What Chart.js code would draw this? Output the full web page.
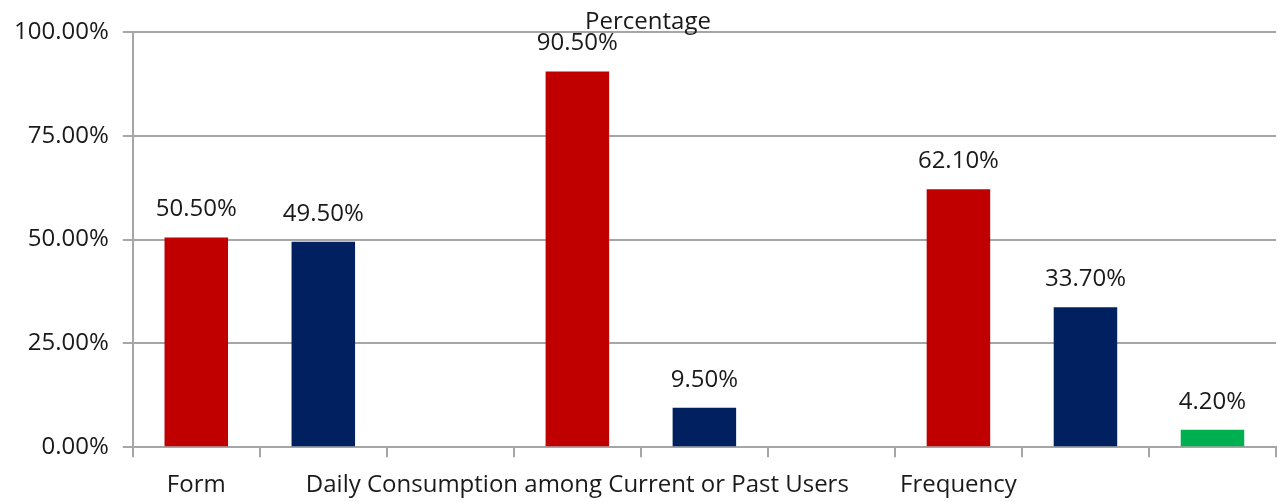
<!DOCTYPE html>
<html lang="en">
<head>
    <meta charset="UTF-8">
    <title>Percentage</title>
    <style>
        body {
            margin: 0;
            background: #ffffff;
        }

        .container {
            width: 1278px;
            height: 502px;
        }
    </style>
</head>
<body>
    <div class="container">
        <canvas id="percentChart" width="1278" height="502"></canvas>
    </div>

    <script src="https://cdn.jsdelivr.net/npm/chart.js"></script>
    <script>
        // categories: only every third slot carries a group name
        const categories = ['Form', '', '', 'Daily Consumption among Current or Past Users', '', '', 'Frequency', '', ''];
        const percentages = [50.5, 49.5, null, 90.5, 9.5, null, 62.1, 33.7, 4.2];
        const barColors = ['#C00000', '#002060', '#C00000', '#C00000', '#002060', '#002060', '#C00000', '#002060', '#00B050'];
        const yTicks = [0, 25, 50, 75, 100];

        const textFont = '"Open Sans", Lato, sans-serif';
        const textColor = '#1a1a1a';
        const fontSize = 24;

        // value labels above each bar
        const valueLabels = {
            id: 'valueLabels',
            afterDatasetsDraw(chart) {
                const ctx = chart.ctx;
                const meta = chart.getDatasetMeta(0);
                ctx.save();
                ctx.font = fontSize + 'px ' + textFont;
                ctx.fillStyle = textColor;
                ctx.textAlign = 'center';
                ctx.textBaseline = 'middle';
                meta.data.forEach((bar, i) => {
                    const v = percentages[i];
                    if (v === null) return;
                    ctx.fillText(v.toFixed(2) + '%', bar.x, bar.y - 28);
                });
                ctx.restore();
            }
        };

        // chart title sits on top of the 100% gridline
        const topTitle = {
            id: 'topTitle',
            afterDraw(chart) {
                const ctx = chart.ctx;
                ctx.save();
                ctx.font = fontSize + 'px ' + textFont;
                ctx.fillStyle = textColor;
                ctx.textAlign = 'center';
                ctx.textBaseline = 'middle';
                ctx.fillText('Percentage', 648, chart.chartArea.top - 10);
                ctx.restore();
            }
        };

        const chart = new Chart(document.getElementById('percentChart').getContext('2d'), {
            type: 'bar',
            data: {
                labels: categories,
                datasets: [{
                    label: 'Percentage',
                    data: percentages,
                    backgroundColor: barColors,
                    categoryPercentage: 1.0,
                    barPercentage: 0.5,
                }]
            },
            options: {
                responsive: false,
                animation: false,
                layout: {
                    padding: { top: 32, right: 2, left: 0, bottom: 0 }
                },
                plugins: {
                    legend: { display: false },
                    title: { display: false },
                    tooltip: { enabled: false }
                },
                scales: {
                    x: {
                        offset: true,
                        afterFit(scale) {
                            scale.height -= 12;
                        },
                        grid: {
                            offset: true,
                            drawOnChartArea: false,
                            color: '#a6a6a6',
                            lineWidth: 2,
                            tickLength: 10
                        },
                        border: { color: '#a6a6a6', width: 2 },
                        ticks: {
                            autoSkip: false,
                            maxRotation: 0,
                            minRotation: 0,
                            color: textColor,
                            font: { family: textFont, size: fontSize },
                            padding: 14
                        }
                    },
                    y: {
                        min: 0,
                        max: 100,
                        afterBuildTicks(axis) {
                            axis.ticks = yTicks.map(v => ({ value: v }));
                        },
                        grid: {
                            color: '#a6a6a6',
                            lineWidth: 2,
                            tickLength: 10
                        },
                        border: { color: '#a6a6a6', width: 2 },
                        ticks: {
                            color: textColor,
                            font: { family: textFont, size: fontSize },
                            padding: 14,
                            callback: v => v.toFixed(2) + '%'
                        }
                    }
                }
            },
            plugins: [valueLabels, topTitle]
        });
    </script>
</body>
</html>
